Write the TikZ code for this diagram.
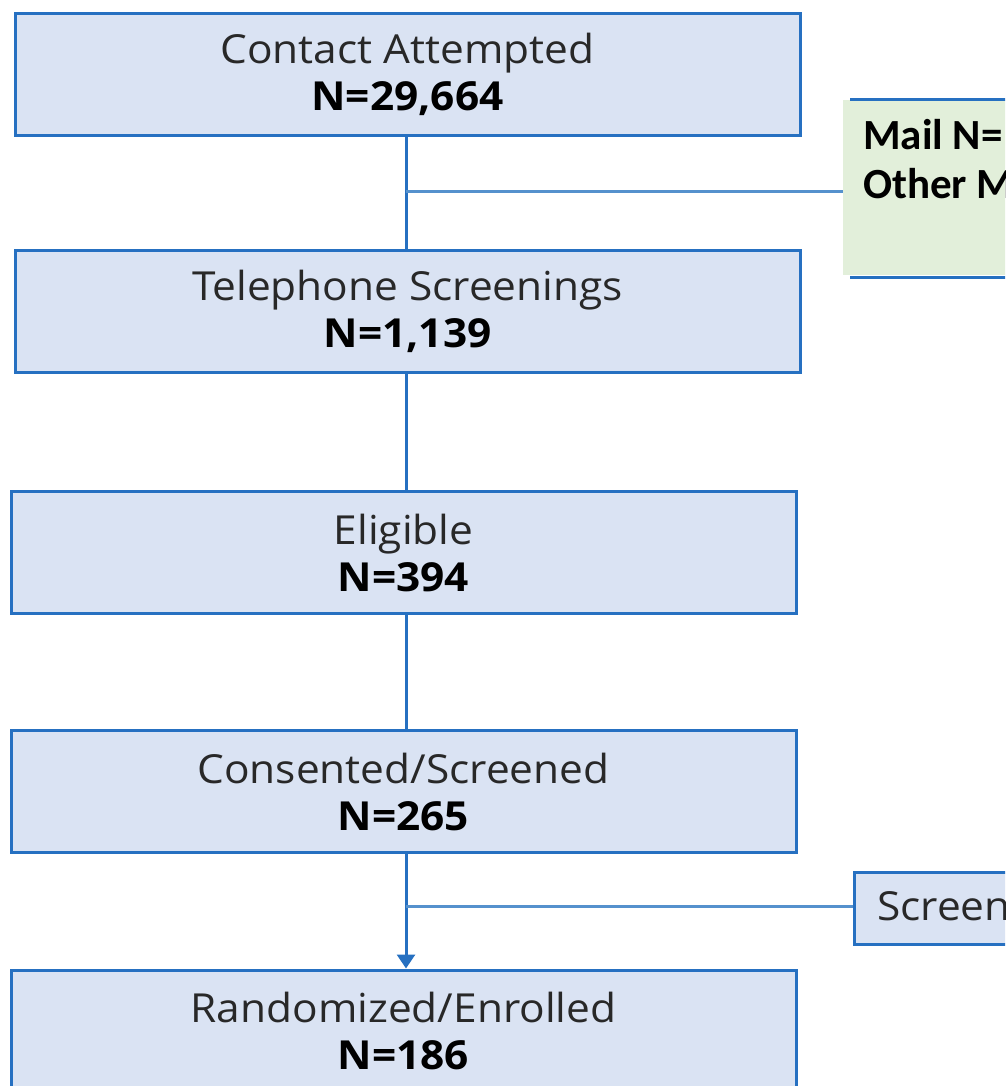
\documentclass[tikz,border=0pt]{standalone}
\usepackage{fontspec}
\setmainfont{Open Sans}[FakeStretch=1.06]
\newfontfamily\calib{Carlito}
\usetikzlibrary{arrows.meta}
\definecolor{bordblue}{RGB}{38,112,193}
\definecolor{lineblue}{RGB}{85,145,205}
\definecolor{boxfill}{RGB}{218,227,243}
\definecolor{greenfill}{RGB}{226,239,218}
\definecolor{txtgray}{RGB}{40,40,40}
\begin{document}
\begin{tikzpicture}[x=1pt,y=-1pt,
  mainbox/.style={draw=bordblue, line width=3pt, fill=boxfill, minimum width=785pt, minimum height=122pt, inner sep=0pt, align=center, font=\fontsize{40}{47}\selectfont, text=txtgray},
  conn/.style={draw=bordblue, line width=3pt},
  side/.style={draw=lineblue, line width=3pt}]
\useasboundingbox (0,0) rectangle (1005,1086);
\clip (0,0) rectangle (1005,1086);
% main boxes
\node[mainbox] (b1) at (407.5,74.5) {Contact Attempted\\{\bfseries\color{black}N=29,664}};
\node[mainbox] (b2) at (407.5,311) {Telephone Screenings\\{\bfseries\color{black}N=1,139}};
\node[mainbox] (b3) at (403.5,552.5) {Eligible\\{\bfseries\color{black}N=394}};
\node[mainbox] (b4) at (403.5,791.5) {Consented/Screened\\{\bfseries\color{black}N=265}};
\node[mainbox] (b5) at (403.5,1031) {Randomized/Enrolled\\{\bfseries\color{black}N=186}};
% side boxes
\node[fill=greenfill, minimum width=400pt, minimum height=175pt, anchor=north west, inner sep=0pt] (mail) at (843,100) {};
\draw[conn] ([xshift=7pt]mail.north west) -- (mail.north east);
\draw[conn] ([xshift=7pt,yshift=-2pt]mail.south west) -- ([yshift=-2pt]mail.south east);
\node[anchor=base west, inner sep=0pt, font=\calib\bfseries\fontsize{43}{49}\selectfont] (mail1) at (863,150) {Mail N=};
\node[anchor=base west, inner sep=0pt, font=\calib\bfseries\fontsize{43}{49}\selectfont] (mail2) at (863,199) {Other M};
\node[draw=bordblue, line width=3pt, fill=boxfill, minimum width=300pt, minimum height=72pt, anchor=north west, inner sep=0pt] (scr) at (852.5,870.5) {};
\node[anchor=base west, inner sep=0pt, text=txtgray, font=\fontsize{40}{47}\selectfont] (scrtxt) at (877,920) {Screen};
% connectors
\coordinate (j1) at (406,192);
\coordinate (j2) at (406,906);
\draw[conn] (b1.south -| j1) -- (b2.north -| j1);
\draw[conn] (b2.south -| j1) -- (b3.north -| j1);
\draw[conn] (b3.south -| j1) -- (b4.north -| j1);
\draw[conn, -{Triangle[length=14pt,width=18pt]}] (b4.south -| j2) -- (b5.north -| j2);
\draw[side] (j1) -- (mail.west |- j1);
\draw[side] (j2) -- (scr.west |- j2);
\end{tikzpicture}
\end{document}
